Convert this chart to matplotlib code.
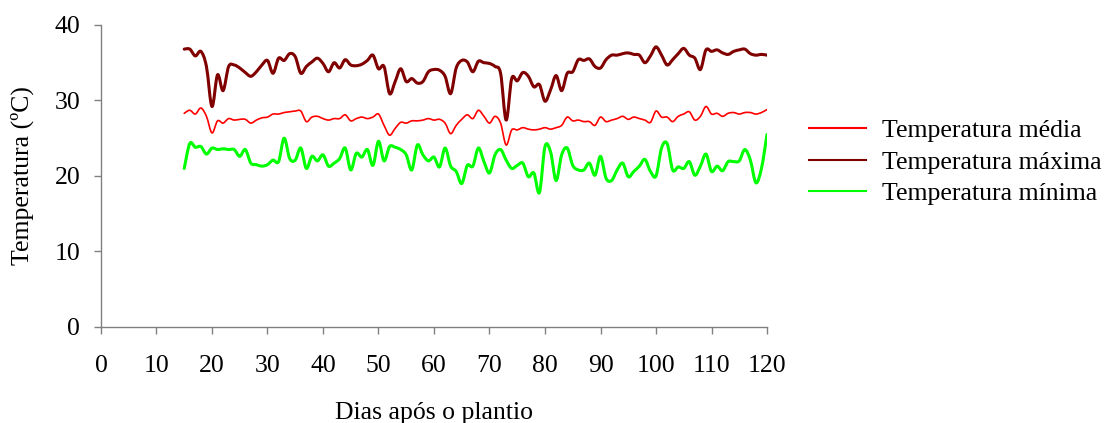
import matplotlib.pyplot as plt
from matplotlib.path import Path
from matplotlib.patches import PathPatch
from matplotlib.lines import Line2D

plt.rcParams['font.family'] = ['Liberation Serif', 'DejaVu Serif']

dias = list(range(15, 121))

t_max = [36.8, 36.8, 35.9, 36.5, 34.5, 29.2, 33.4, 31.3, 34.5, 34.7,
         34.3, 33.7, 33.2, 33.8, 34.7, 35.3, 33.6, 35.6, 35.3, 36.2,
         35.8, 33.6, 34.5, 35.1, 35.6, 34.9, 33.8, 35.0, 34.3, 35.4,
         34.7, 34.6, 34.8, 35.3, 36.0, 34.2, 34.5, 30.9, 32.5, 34.2,
         32.5, 32.9, 32.3, 32.5, 33.8, 34.1, 34.0, 33.2, 30.9, 34.3,
         35.3, 35.1, 33.8, 35.2, 35.0, 34.9, 34.5, 33.6, 27.4, 32.9,
         32.6, 33.7, 33.2, 31.8, 32.1, 29.9, 31.4, 33.3, 31.3, 33.6,
         33.8, 35.4, 35.3, 35.5, 34.5, 34.3, 35.4, 36.0, 36.0, 36.2,
         36.3, 36.1, 36.0, 35.0, 35.9, 37.1, 36.0, 34.7, 35.4, 36.2,
         36.9, 36.0, 35.6, 34.1, 36.7, 36.5, 36.7, 36.3, 36.1, 36.5,
         36.7, 36.8, 36.2, 36.0, 36.1, 36.0]

t_med = [28.3, 28.7, 28.2, 29.0, 27.9, 25.7, 27.3, 27.0, 27.6, 27.4,
         27.5, 27.5, 27.0, 27.4, 27.7, 27.8, 28.2, 28.2, 28.4, 28.5,
         28.6, 28.6, 27.2, 27.8, 27.9, 27.6, 27.4, 27.6, 27.6, 28.1,
         27.3, 27.6, 27.8, 27.6, 27.8, 28.2, 26.7, 25.4, 26.3, 27.1,
         27.0, 27.3, 27.3, 27.4, 27.6, 27.4, 27.5, 27.0, 25.6, 26.7,
         27.5, 28.1, 27.6, 28.7, 27.9, 27.0, 27.9, 27.0, 24.1, 26.1,
         26.1, 26.4, 26.2, 26.1, 26.2, 26.4, 26.2, 26.4, 26.7, 27.8,
         27.3, 27.4, 27.2, 27.2, 26.7, 27.8, 27.2, 27.4, 27.6, 27.9,
         27.5, 27.8, 27.6, 27.4, 27.1, 28.6, 27.8, 27.8, 27.2, 27.9,
         28.2, 28.5, 27.4, 27.9, 29.2, 28.2, 28.3, 27.9, 28.3, 28.4,
         28.2, 28.4, 28.4, 28.2, 28.4, 28.8]

t_min = [21.0, 24.3, 23.8, 23.9, 22.9, 23.7, 23.5, 23.6, 23.5, 23.5,
         22.6, 23.5, 21.7, 21.5, 21.3, 21.5, 22.1, 21.9, 25.0, 22.3,
         22.1, 23.7, 21.0, 22.6, 22.0, 22.8, 21.3, 21.7, 22.3, 23.7,
         20.8, 23.0, 22.5, 23.5, 21.4, 24.6, 22.0, 23.9, 23.8, 23.5,
         22.8, 20.8, 24.1, 22.8, 22.0, 22.5, 21.2, 23.7, 21.3, 20.6,
         19.0, 21.4, 21.3, 23.7, 21.9, 20.4, 22.8, 23.5, 22.1, 21.0,
         21.4, 21.7, 19.9, 20.4, 17.8, 23.9, 23.2, 19.4, 22.8, 23.7,
         21.4, 20.8, 20.8, 21.7, 20.1, 22.6, 19.7, 19.4, 20.8, 21.7,
         19.9, 20.6, 21.3, 22.2, 20.6, 20.0, 23.7, 24.3, 20.8, 21.2,
         21.0, 21.9, 20.1, 21.3, 22.9, 20.6, 21.3, 20.7, 21.9, 21.9,
         22.0, 23.5, 22.1, 19.1, 21.0, 25.5]

series = [
    ('Temperatura média', t_med, '#ff0000', 1.2),
    ('Temperatura máxima', t_max, '#800000', 2.2),
    ('Temperatura mínima', t_min, '#00ff00', 2.2),
]


def smooth_path(x, y):
    # cubic Bezier segments through every point (Catmull-Rom style smoothing)
    n = len(x)
    verts = [(x[0], y[0])]
    codes = [Path.MOVETO]
    for i in range(n - 1):
        x0, y0 = (x[i - 1], y[i - 1]) if i > 0 else (x[i], y[i])
        x3, y3 = (x[i + 2], y[i + 2]) if i + 2 < n else (x[i + 1], y[i + 1])
        c1 = (x[i] + (x[i + 1] - x0) / 6, y[i] + (y[i + 1] - y0) / 6)
        c2 = (x[i + 1] - (x3 - x[i]) / 6, y[i + 1] - (y3 - y[i]) / 6)
        verts += [c1, c2, (x[i + 1], y[i + 1])]
        codes += [Path.CURVE4] * 3
    return Path(verts, codes)


fig = plt.figure(figsize=(11.06, 4.23), dpi=100)
ax = fig.add_axes([0.0913, 0.227, 0.6022, 0.714])

handles = []
for label, vals, color, lw in series:
    patch = PathPatch(smooth_path(dias, vals), facecolor='none',
                      edgecolor=color, linewidth=lw, capstyle='round',
                      joinstyle='round')
    ax.add_patch(patch)
    handles.append(Line2D([], [], color=color, linewidth=1.5, label=label))

ax.set_xlim(0, 120)
ax.set_ylim(0, 40)
ax.set_xticks(range(0, 121, 10))
ax.set_yticks(range(0, 41, 10))
for s in ['top', 'right']:
    ax.spines[s].set_visible(False)
for s in ['left', 'bottom']:
    ax.spines[s].set_color('#808080')
    ax.spines[s].set_linewidth(1.0)
ax.tick_params(axis='both', colors='#808080', labelcolor='black',
               labelsize=18.5, length=5, width=1.0)
ax.tick_params(axis='x', pad=15)
ax.tick_params(axis='y', pad=10)

ax.set_xlabel('Dias após o plantio', fontsize=18.5, labelpad=18)
ax.set_ylabel('Temperatura (ºC)', fontsize=18.5, labelpad=15)

fig.legend(handles=handles, loc='center left', bbox_to_anchor=(0.711, 0.617),
           frameon=False, fontsize=18.5, handlelength=2.2, handletextpad=0.62,
           labelspacing=0.32)

fig.savefig('out.png', dpi=100)
